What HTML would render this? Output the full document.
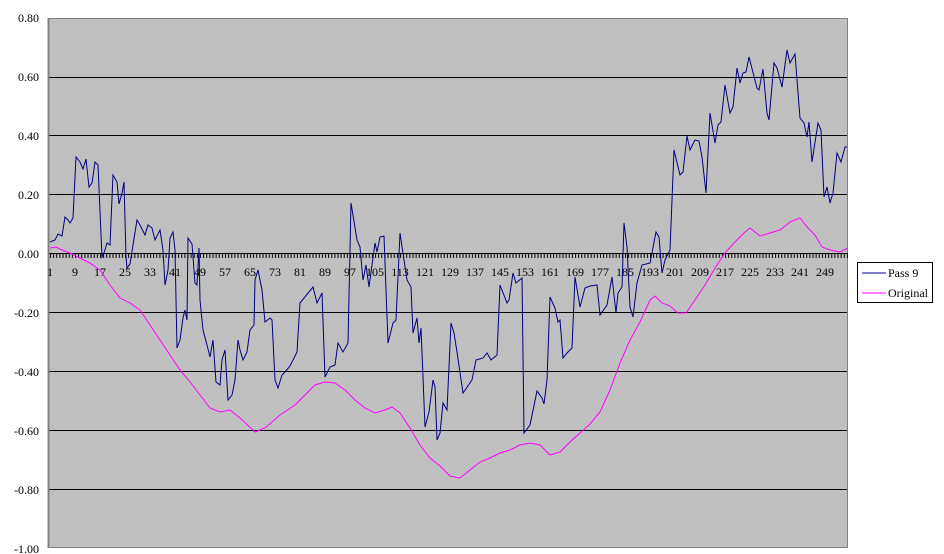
<!DOCTYPE html>
<html><head><meta charset="utf-8"><style>
html,body{margin:0;padding:0;background:#fff;}
svg{display:block;font-family:"Liberation Serif",serif;}
</style></head><body>
<svg width="944" height="554" xmlns="http://www.w3.org/2000/svg">
<defs>
<pattern id="tk" x="50" y="0" width="3.125" height="10" patternUnits="userSpaceOnUse">
<rect x="0" y="0" width="1" height="10" fill="#000"/>
</pattern>
</defs>
<rect x="0" y="0" width="944" height="554" fill="#fff"/>
<rect x="48" y="18" width="800" height="530" fill="#c0c0c0"/>
<g stroke="#000" stroke-width="1">
<line x1="48" y1="77.5" x2="848" y2="77.5"/>
<line x1="48" y1="135.5" x2="848" y2="135.5"/>
<line x1="48" y1="194.5" x2="848" y2="194.5"/>
<line x1="48" y1="253.5" x2="848" y2="253.5"/>
<line x1="48" y1="312.5" x2="848" y2="312.5"/>
<line x1="48" y1="371.5" x2="848" y2="371.5"/>
<line x1="48" y1="430.5" x2="848" y2="430.5"/>
<line x1="48" y1="489.5" x2="848" y2="489.5"/>
</g>
<line x1="48" y1="18.5" x2="848" y2="18.5" stroke="#808080"/>
<line x1="48" y1="547.5" x2="848" y2="547.5" stroke="#808080"/>
<line x1="847.5" y1="18" x2="847.5" y2="548" stroke="#808080"/>
<line x1="48.5" y1="18" x2="48.5" y2="548" stroke="#808080" stroke-width="2"/>
<rect x="50" y="253" width="798" height="5" fill="url(#tk)"/>
<g font-size="12" fill="#000" text-anchor="end">
<text x="39" y="22">0.80</text>
<text x="39" y="81">0.60</text>
<text x="39" y="140">0.40</text>
<text x="39" y="199">0.20</text>
<text x="39" y="258">0.00</text>
<text x="39" y="317">-0.20</text>
<text x="39" y="376">-0.40</text>
<text x="39" y="435">-0.60</text>
<text x="39" y="494">-0.80</text>
<text x="39" y="553">-1.00</text>
</g>
<g font-size="12" fill="#000" text-anchor="middle">
<text x="50" y="276">1</text><text x="75" y="276">9</text><text x="100" y="276">17</text><text x="125" y="276">25</text><text x="150" y="276">33</text><text x="175" y="276">41</text><text x="200" y="276">49</text><text x="225" y="276">57</text><text x="250" y="276">65</text><text x="275" y="276">73</text><text x="300" y="276">81</text><text x="325" y="276">89</text><text x="350" y="276">97</text><text x="375" y="276">105</text><text x="400" y="276">113</text><text x="425" y="276">121</text><text x="450" y="276">129</text><text x="475" y="276">137</text><text x="500" y="276">145</text><text x="525" y="276">153</text><text x="550" y="276">161</text><text x="575" y="276">169</text><text x="600" y="276">177</text><text x="625" y="276">185</text><text x="650" y="276">193</text><text x="675" y="276">201</text><text x="700" y="276">209</text><text x="725" y="276">217</text><text x="750" y="276">225</text><text x="775" y="276">233</text><text x="800" y="276">241</text><text x="825" y="276">249</text>
</g>
<polyline fill="none" stroke="#ff00ff" stroke-width="1" points="50,248 56,247 62,250 70,253 80,258 90,263 100,270 110,285 120,298 130,303 140,310 150,325 160,340 170,355 180,370 190,382 200,395 210,408 220,412 230,410 240,418 255,432 265,428 280,415 295,405 305,395 315,385 325,382 335,383 345,390 355,400 365,408 375,413 385,410 392,407 400,413 410,428 420,445 430,458 440,466 450,476 460,478 470,470 480,462 490,458 500,453 510,450 520,445 530,443 540,445 550,455 560,452 570,442 580,433 590,424 600,412 610,390 620,363 630,340 640,322 650,300 655,296 662,303 670,306 678,313 686,313 695,300 705,285 715,268 725,253 735,242 745,232 750,228 760,236 770,233 780,230 790,222 800,218 808,228 815,235 822,247 830,250 840,252 848,248"/>
<polyline fill="none" stroke="#000080" stroke-width="1" points="50,242 55,240 58,234 62,236 65,217 68,220 70,223 73,218 76,157 80,162 83,169 86,159 89,187 92,183 95,162 98,165 102,257 104,253 107,243 110,245 113,175 117,182 119,204 122,193 124,182 126,257 127,268 130,264 133,245 137,220 140,225 145,235 148,225 152,228 155,240 160,230 163,250 165,285 168,270 170,238 173,232 175,250 177,348 180,340 183,318 185,310 187,320 188,238 192,244 195,283 197,285 199,248 200,300 203,330 207,345 210,357 213,340 216,382 220,385 222,360 225,350 228,400 232,395 235,380 238,340 240,350 243,360 247,352 250,330 254,325 255,280 258,270 262,290 265,322 270,318 272,320 275,380 278,388 282,375 285,372 290,366 293,360 297,352 300,303 313,287 317,303 322,293 325,377 330,367 335,365 338,343 343,352 348,343 351,203 357,240 360,247 363,280 366,265 369,287 375,243 377,252 380,237 384,236 388,343 393,323 396,320 400,233 407,280 411,287 413,333 417,318 419,343 421,328 425,427 429,412 433,380 435,387 437,440 440,433 443,403 447,410 451,323 454,333 457,352 463,393 472,380 476,360 483,358 487,353 491,360 497,355 500,285 507,303 509,300 513,273 516,283 522,278 524,433 530,425 537,391 542,398 544,404 547,380 550,297 555,308 558,322 560,320 563,358 567,353 572,348 575,277 580,307 585,288 590,286 597,285 600,315 607,305 612,277 616,313 618,293 622,287 624,223 627,247 630,307 633,317 637,283 642,265 650,263 656,232 659,237 662,273 665,260 670,250 674,150 680,175 683,172 687,136 690,150 695,140 699,141 702,157 706,193 710,113 715,143 718,125 721,122 725,85 730,113 733,107 737,68 740,83 743,73 746,72 749,57 757,88 759,90 763,69 767,113 769,120 774,63 777,68 782,87 787,50 790,63 795,54 800,118 804,123 807,137 809,122 812,162 818,123 821,130 824,197 827,187 830,203 833,193 837,153 841,162 845,147 847,147"/>
<rect x="857.5" y="262.5" width="75" height="40" fill="#fff" stroke="#000"/>
<line x1="862" y1="273" x2="886" y2="273" stroke="#000080"/>
<line x1="862" y1="293" x2="886" y2="293" stroke="#ff00ff"/>
<g font-size="12" fill="#000">
<text x="888" y="277">Pass 9</text>
<text x="888" y="297">Original</text>
</g>
</svg>
</body></html>
